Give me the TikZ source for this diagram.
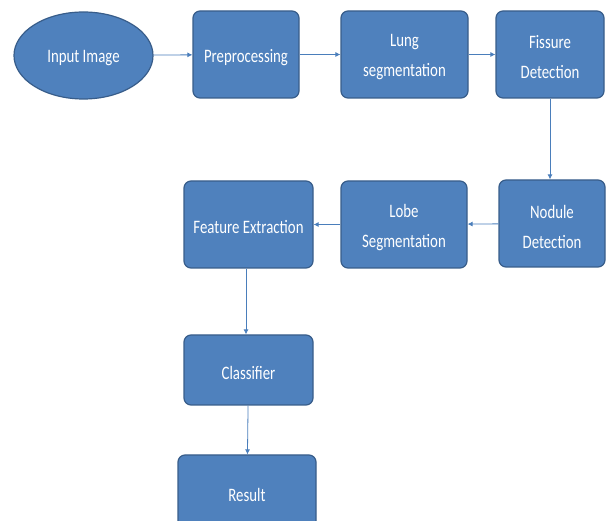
\documentclass[tikz,border=0pt]{standalone}
\usepackage{fontspec}
\setmainfont{Carlito}[FakeStretch=0.78]
\usetikzlibrary{shapes.geometric,arrows.meta}
\definecolor{boxfill}{HTML}{4F81BD}
\definecolor{boxline}{HTML}{385D8A}
\definecolor{arrowc}{HTML}{4A7EBB}
\newcommand\lowered[1]{\raisebox{-3pt}[\height][\depth]{#1}}
\tikzset{
  stepbox/.style={draw=boxline, line width=1.2pt, fill=boxfill, rounded corners=7pt,
    text=white, align=center, font=\fontsize{19}{30}\selectfont, inner sep=0pt},
  startoval/.style={draw=boxline, line width=1.2pt, fill=boxfill, ellipse,
    text=white, align=center, font=\fontsize{19}{30}\selectfont, inner sep=0pt},
  conn/.style={draw=arrowc, line width=0.8pt, -{Latex[length=5pt,width=5pt]}}
}
\begin{document}
\begin{tikzpicture}[x=1pt,y=-1pt]
\useasboundingbox (0,0) rectangle (606,521);
\begin{scope}
\clip (0,0) rectangle (606,521);
\node[startoval, minimum width=139pt, minimum height=87pt] (input) at (83.5,55.5) {\lowered{Input Image}};
\node[stepbox, minimum width=106pt, minimum height=87pt] (pre) at (246,54.5) {\lowered{Preprocessing}};
\node[stepbox, minimum width=127pt, minimum height=87pt] (lung) at (404.5,54.5) {\lowered{Lung}\\\lowered{segmentation}};
\node[stepbox, minimum width=108pt, minimum height=87pt] (fis) at (550,54.5) {\lowered{Fissure}\\\lowered{Detection}};
\node[stepbox, minimum width=106pt, minimum height=87pt] (nod) at (552,223.5) {\lowered{Nodule}\\\lowered{Detection}};
\node[stepbox, minimum width=126pt, minimum height=87pt] (lobe) at (404,224.5) {\lowered{Lobe}\\\lowered{Segmentation}};
\node[stepbox, minimum width=129pt, minimum height=87pt] (feat) at (248.5,224.5) {\lowered{Feature Extraction}};
\node[stepbox, minimum width=129pt, minimum height=70pt] (cls) at (248.5,370) {\lowered{Classifier}};
\node[stepbox, minimum width=138pt, minimum height=74pt] (res) at (247,492) {\lowered{Result}};
\end{scope}
\draw[conn] (input) -- (pre);
\draw[conn] (pre) -- (lung);
\draw[conn] (lung) -- (fis);
\draw[conn] (fis.south) -- (nod.north -| fis.south);
\draw[conn] (nod) -- (lobe);
\draw[conn] (lobe) -- (feat);
\draw[conn] (feat.south -| 246,0) -- (cls.north -| 246,0);
\draw[conn] (cls) -- (res);
\end{tikzpicture}
\end{document}
